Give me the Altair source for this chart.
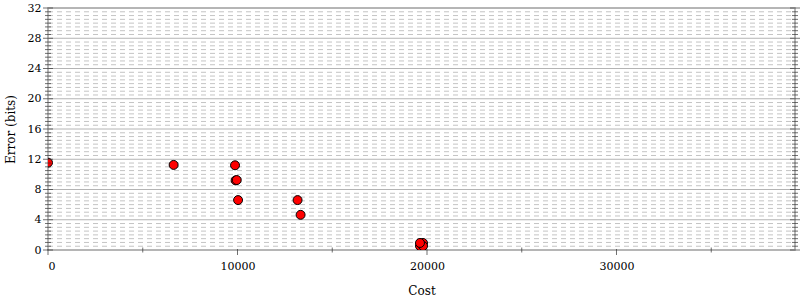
import altair as alt
import pandas as pd

# data
cost = [0, 6630, 9870, 9900, 9960, 10030, 13170, 13330, 19790, 19630, 19790, 19630]
error = [11.55, 11.25, 11.2, 9.2, 9.25, 6.6, 6.6, 4.65, 0.93, 0.53, 0.53, 0.93]

y_major = [0, 4, 8, 12, 16, 20, 24, 28, 32]
y_minor = [i * 0.5 for i in range(65) if (i * 0.5) % 4 != 0]
x_major = [0, 10000, 20000, 30000]
x_minor = [5000, 15000, 25000, 35000]

X_MAX = 39420
W, H = 747, 242
FONT = "DejaVu Serif"

pts = pd.DataFrame({"cost": cost, "error": error})
ymaj = pd.DataFrame({"y": y_major})
ymin = pd.DataFrame({"y": y_minor})
xmaj = pd.DataFrame({"x": x_major})
xmin = pd.DataFrame({"x": x_minor})

xscale = alt.Scale(domain=[0, X_MAX], nice=False, zero=False)
yscale = alt.Scale(domain=[0, 32], nice=False)

xaxis = alt.Axis(values=x_major, format="d", ticks=False, grid=False, domain=False,
                 labelPadding=10, titlePadding=14, labelOverlap=False)
yaxis = alt.Axis(values=y_major, ticks=False, grid=False, domain=False,
                 labelPadding=7, titlePadding=10, labelOverlap=False,
                 labelBound=False, labelFlush=False)


def Y(field):
    return alt.Y(field, scale=yscale, axis=yaxis, title="Error (bits)")


def X(field):
    return alt.X(field, scale=xscale, axis=xaxis, title="Cost")


minor_grid = alt.Chart(ymin).mark_rule(
    color="#c4c4c4", strokeWidth=1, strokeDash=[5, 4]
).encode(y=Y("y:Q"), x=alt.value(0), x2=alt.value(W))

major_grid = alt.Chart(ymaj).mark_rule(
    color="#b4b4b4", strokeWidth=1
).encode(y=Y("y:Q"), x=alt.value(0), x2=alt.value(W))

ticks_style = dict(color="#333333", thickness=1)
y_minor_left = alt.Chart(ymin).mark_tick(size=6, orient="horizontal", **ticks_style).encode(
    y=Y("y:Q"), x=alt.value(0))
y_minor_right = alt.Chart(ymin).mark_tick(size=6, orient="horizontal", **ticks_style).encode(
    y=Y("y:Q"), x=alt.value(W))
y_major_left = alt.Chart(ymaj).mark_tick(size=10, orient="horizontal", **ticks_style).encode(
    y=Y("y:Q"), x=alt.value(0))
y_major_right = alt.Chart(ymaj).mark_tick(size=10, orient="horizontal", **ticks_style).encode(
    y=Y("y:Q"), x=alt.value(W))
x_minor_t = alt.Chart(xmin).mark_tick(size=5, orient="vertical", **ticks_style).encode(
    x=X("x:Q"), y=alt.value(H))
x_major_t = alt.Chart(xmaj).mark_tick(size=6, orient="vertical", **ticks_style).encode(
    x=X("x:Q"), y=alt.value(H + 2))

points = alt.Chart(pts).mark_circle(
    size=80, color="#ff0000", stroke="#000000", strokeWidth=1, opacity=1, clip=True
).encode(x=X("cost:Q"), y=Y("error:Q"))

chart = alt.layer(
    minor_grid, major_grid, points, y_minor_left, y_minor_right, y_major_left, y_major_right,
    x_minor_t, x_major_t,
).properties(
    width=W, height=H,
    autosize=alt.AutoSizeParams(type="none"),
    padding={"left": 48, "top": 8, "right": 5, "bottom": 50},
).configure_view(
    stroke="#a0a0a0", strokeWidth=1.5
).configure_axis(
    labelFont=FONT, titleFont=FONT, labelFontSize=11, titleFontSize=12,
    labelColor="#000000", titleColor="#000000", titleFontWeight="normal",
)

chart.save("out.html", embed_options={"renderer": "svg", "actions": False})
